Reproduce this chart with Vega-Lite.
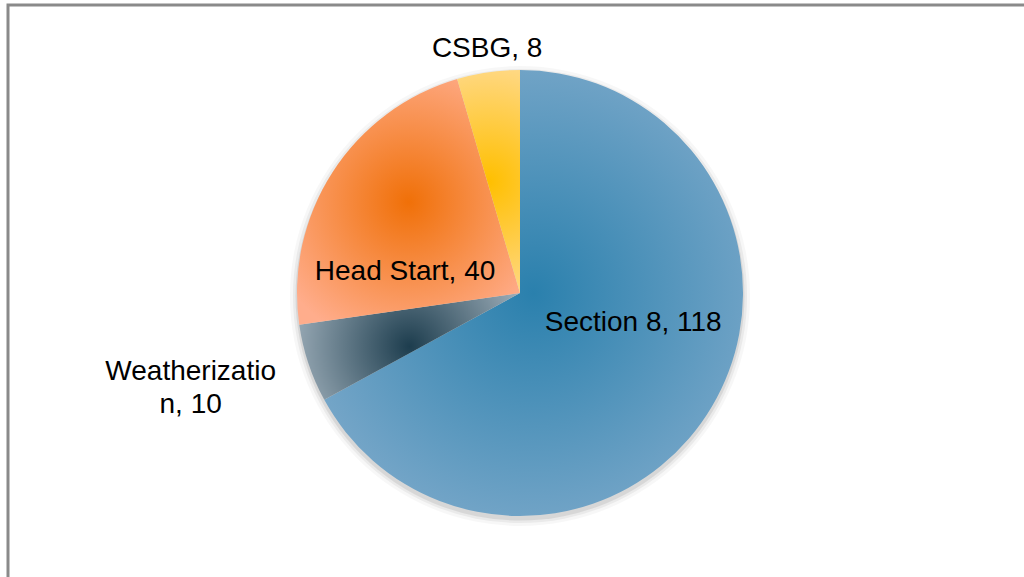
{
  "$schema": "https://vega.github.io/schema/vega-lite/v6.json",
  "width": 1024,
  "height": 576,
  "autosize": "none",
  "padding": {"left": 8, "top": 5, "right": 0, "bottom": 0},
  "background": "white",
  "config": {"view": {"stroke": null}},
  "resolve": {"scale": {"theta": "independent"}},
  "data": {
    "values": [
      {"category": "Section 8", "value": 118, "rank": 1, "label": "Section 8, 118"},
      {"category": "Weatherization", "value": 10, "rank": 2, "label": ["Weatherizatio", "n, 10"]},
      {"category": "Head Start", "value": 40, "rank": 3, "label": "Head Start, 40"},
      {"category": "CSBG", "value": 8, "rank": 4, "label": "CSBG, 8"}
    ]
  },
  "layer": [
    {
      "data": {"values": [{"frame": 1}]},
      "mark": {"type": "rect", "fill": null, "stroke": "#8a8a8a", "strokeWidth": 3, "x": 0, "y": 0, "x2": {"expr": "width + 20"}, "y2": {"expr": "height + 20"}},
      "encoding": {}
    },
    {
      "data": {"values": [{"whole": 1}]},
      "mark": {"type": "arc", "radius": 230, "fill": "black", "opacity": 0.03, "y": {"expr": "height / 2 + 3"}},
      "encoding": {"theta": {"field": "whole", "type": "quantitative"}}
    },
    {
      "data": {"values": [{"whole": 1}]},
      "mark": {"type": "arc", "radius": 227, "fill": "black", "opacity": 0.05, "y": {"expr": "height / 2 + 3"}},
      "encoding": {"theta": {"field": "whole", "type": "quantitative"}}
    },
    {
      "data": {"values": [{"whole": 1}]},
      "mark": {"type": "arc", "radius": 224.5, "fill": "black", "opacity": 0.08, "y": {"expr": "height / 2 + 3"}},
      "encoding": {"theta": {"field": "whole", "type": "quantitative"}}
    },
    {
      "mark": {"type": "arc", "radius": 223},
      "encoding": {
        "theta": {"field": "value", "type": "quantitative", "stack": true},
        "order": {"field": "rank", "type": "quantitative"},
        "fill": {
          "condition": [
            {"test": "datum.category === 'Section 8'", "value": {"gradient": "radial", "x1": 0.5, "y1": 0.5, "r1": 0, "x2": 0.5, "y2": 0.5, "r2": 0.6, "stops": [{"offset": 0, "color": "#2a80ad"}, {"offset": 1, "color": "#7eaacb"}]}},
            {"test": "datum.category === 'Weatherization'", "value": {"gradient": "radial", "x1": 0.5, "y1": 0.5, "r1": 0, "x2": 0.5, "y2": 0.5, "r2": 0.6, "stops": [{"offset": 0, "color": "#1d3d4e"}, {"offset": 1, "color": "#a9b8c3"}]}},
            {"test": "datum.category === 'Head Start'", "value": {"gradient": "radial", "x1": 0.5, "y1": 0.5, "r1": 0, "x2": 0.5, "y2": 0.5, "r2": 0.6, "stops": [{"offset": 0, "color": "#f07008"}, {"offset": 1, "color": "#ffad8c"}]}}
          ],
          "value": {"gradient": "radial", "x1": 0.5, "y1": 0.5, "r1": 0, "x2": 0.5, "y2": 0.5, "r2": 0.6, "stops": [{"offset": 0, "color": "#ffbf00"}, {"offset": 1, "color": "#ffdc98"}]}
        }
      }
    },
    {
      "mark": {"type": "text", "radius": 120, "dx": 10, "dy": -31, "font": "Liberation Sans", "fontSize": 28, "color": "black", "align": "center", "baseline": "middle"},
      "encoding": {
        "theta": {"field": "value", "type": "quantitative", "stack": true},
        "order": {"field": "rank", "type": "quantitative"},
        "text": {"condition": {"test": "datum.category === 'Section 8'", "field": "label"}, "value": ""}
      }
    },
    {
      "mark": {"type": "text", "radius": 120, "dx": -14, "dy": 44, "font": "Liberation Sans", "fontSize": 28, "color": "black", "align": "center", "baseline": "middle"},
      "encoding": {
        "theta": {"field": "value", "type": "quantitative", "stack": true},
        "order": {"field": "rank", "type": "quantitative"},
        "text": {"condition": {"test": "datum.category === 'Head Start'", "field": "label"}, "value": ""}
      }
    },
    {
      "mark": {"type": "text", "radius": 245, "dx": 2, "dy": -1.5, "font": "Liberation Sans", "fontSize": 28, "color": "black", "align": "center", "baseline": "middle"},
      "encoding": {
        "theta": {"field": "value", "type": "quantitative", "stack": true},
        "order": {"field": "rank", "type": "quantitative"},
        "text": {"condition": {"test": "datum.category === 'CSBG'", "field": "label"}, "value": ""}
      }
    },
    {
      "mark": {"type": "text", "radius": 345, "dx": -2, "dy": -29.5, "font": "Liberation Sans", "fontSize": 28, "lineHeight": 33, "color": "black", "align": "center", "baseline": "middle"},
      "encoding": {
        "theta": {"field": "value", "type": "quantitative", "stack": true},
        "order": {"field": "rank", "type": "quantitative"},
        "text": {"condition": {"test": "datum.category === 'Weatherization'", "field": "label"}, "value": ""}
      }
    }
  ]
}
